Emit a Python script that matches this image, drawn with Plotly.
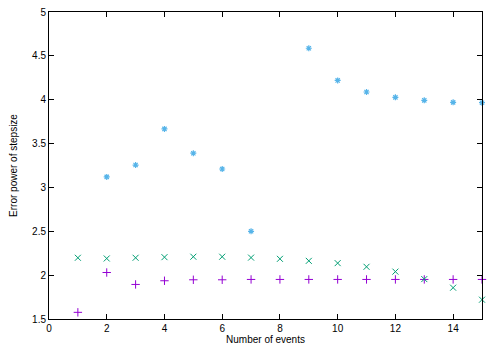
import plotly.graph_objects as go

# number of events
events = list(range(1, 16))

# error power of stepsize, one list per series (None = no point)
series_plus = [1.576, 2.03, 1.894, 1.936, 1.947, 1.947, 1.951, 1.951, 1.951,
               1.951, 1.951, 1.951, 1.951, 1.951, 1.951]
series_cross = [2.198, 2.19, 2.198, 2.205, 2.21, 2.21, 2.2, 2.186, 2.163,
                2.137, 2.095, 2.04, 1.955, 1.857, 1.72]
series_star = [None, 3.12, 3.255, 3.667, 3.39, 3.21, 2.5, None, 4.587,
               4.22, 4.088, 4.027, 3.993, 3.97, 3.966]

FONT = "Liberation Sans, Arial, sans-serif"

fig = go.Figure()
fig.add_trace(go.Scatter(x=events, y=series_plus, mode="markers", cliponaxis=False,
                         marker=dict(symbol="cross-thin", size=6, color="#9400d3",
                                     line=dict(color="#9400d3", width=1))))
fig.add_trace(go.Scatter(x=events, y=series_cross, mode="markers", cliponaxis=False,
                         marker=dict(symbol="x-thin", size=6, color="#009e73",
                                     line=dict(color="#009e73", width=1))))
fig.add_trace(go.Scatter(x=events, y=series_star, mode="markers", cliponaxis=False,
                         marker=dict(symbol="asterisk", size=5, color="#56b4e9",
                                     line=dict(color="#56b4e9", width=1.2))))

axis = dict(showgrid=False, zeroline=False, showline=True, linecolor="black", linewidth=1,
            mirror="ticks", ticks="inside", ticklen=5, tickcolor="black", automargin=False,
            ticklabeloverflow="allow",
            tickfont=dict(family=FONT, size=10, color="black"))

# the page body adds an 8px offset, so margins are shifted to compensate
fig.update_layout(
    width=500, height=350, showlegend=False,
    paper_bgcolor="white", plot_bgcolor="white",
    margin=dict(l=41, r=26, t=4, b=39),
    font=dict(family=FONT, size=10, color="black"),
    xaxis=dict(axis, range=[0, 15], dtick=2, tick0=0,
               title=dict(text="Number of events", font=dict(size=10), standoff=1)),
    yaxis=dict(axis, range=[1.5, 5], dtick=0.5, tick0=1.5,
               title=dict(text="Error power of stepsize", font=dict(size=10), standoff=16)),
)

fig.write_html("out.html")
